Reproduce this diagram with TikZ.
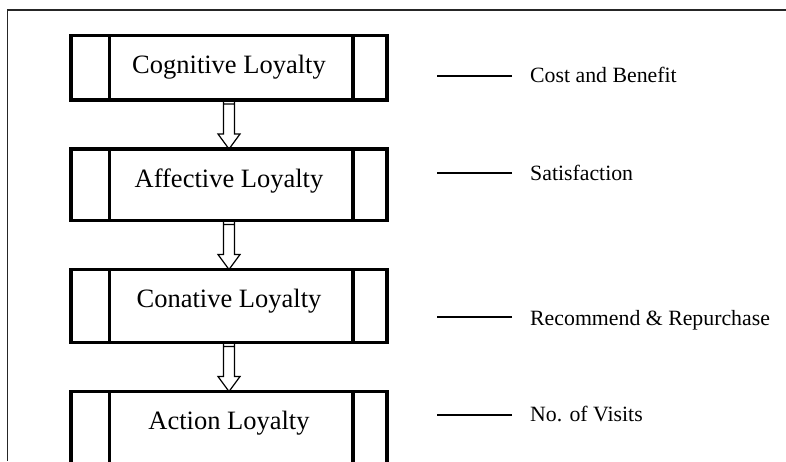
\documentclass[tikz,border=0pt]{standalone}
\usepackage{fontspec}
\setmainfont{Liberation Serif}
\usetikzlibrary{positioning, calc}
\tikzset{
  every node/.style={font=\rmfamily},
  loybox/.style={draw, line width=3.5pt, rectangle, minimum width=316pt, inner xsep=0pt,
                 inner ysep=0pt, outer sep=0pt, text height=38pt, anchor=north,
                 font=\fontsize{26.5}{30}\selectfont,
                 path picture={
                   \draw[line width=3.5pt] ([xshift=38.5pt]path picture bounding box.north west)
                     -- ([xshift=38.5pt]path picture bounding box.south west);
                   \draw[line width=3.5pt] ([xshift=-34pt]path picture bounding box.north east)
                     -- ([xshift=-34pt]path picture bounding box.south east);}},
  hollow/.style={line width=1.2pt, to path={let \p1=(\tikztostart), \p2=(\tikztotarget) in
                 (\x1-5.5pt,\y1) -- (\x1-5.5pt,\y2+15pt) -- (\x1-11pt,\y2+15pt) -- (\x2,\y2)
                 -- (\x1+11pt,\y2+15pt) -- (\x1+5.5pt,\y2+15pt) -- (\x1+5.5pt,\y1)
                 (\x1-5.5pt,\y1-4pt) -- (\x1+5.5pt,\y1-4pt)}},
  lab/.style={inner sep=0pt, anchor=base west, font=\fontsize{21.8}{26}\selectfont},
  leader/.style={line width=1.3pt},
}
\begin{document}
\begin{tikzpicture}[x=1pt, y=1pt, node distance=49pt]
  \useasboundingbox (0,0) rectangle (786,-461);
  \clip (0,0) rectangle (786,-461);
  \draw[line width=1.3pt, black!85] (786,-10) -- (7.5,-10) -- (7.5,-461);
  % stages
  \node[loybox, text depth=26.5pt] (cog) at (229,-35.5) {Cognitive Loyalty};
  \node[loybox, text depth=33.5pt, below=of cog] (aff) {Affective Loyalty};
  \node[loybox, text depth=35pt, below=of aff] (con) {Conative Loyalty};
  \node[loybox, text depth=60pt, below=of con] (act) {Action Loyalty};
  \draw[hollow] (cog.south) to (aff.north);
  \draw[hollow] (aff.south) to (con.north);
  \draw[hollow] (con.south) to (act.north);
  % measures
  \node[lab] (cost) at (530,-82) {Cost and Benefit};
  \node[lab] (satis) at (530,-180) {Satisfaction};
  \node[lab] (recom) at (530,-325) {Recommend \& Repurchase};
  \node[lab] (visits) at (530,-421) {No. of Visits};
  \foreach \n/\d in {cost/6, satis/7, recom/8, visits/6}
    \draw[leader] ([xshift=-18pt, yshift=\d pt]\n.base west) -- ++(-75,0);
\end{tikzpicture}
\end{document}
